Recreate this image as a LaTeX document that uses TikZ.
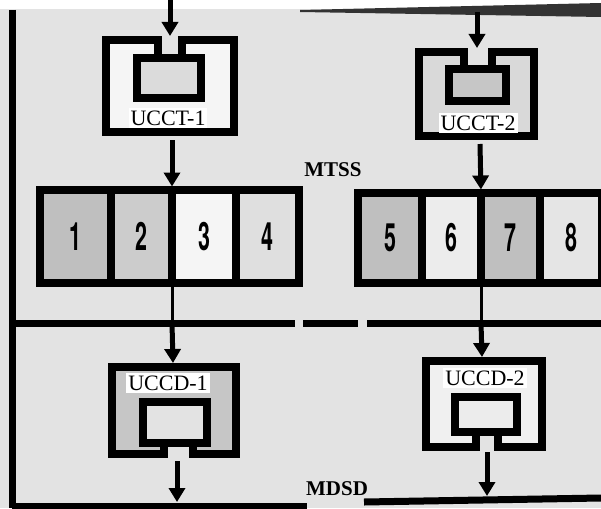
\documentclass[tikz,border=0pt]{standalone}
\usepackage{fontspec}
\setmainfont{Liberation Serif}
\newfontfamily\digitfont{TeX Gyre Heros}
\usetikzlibrary{arrows.meta,positioning}

\colorlet{bgray}{gray!22}
\tikzset{
  frame/.style={line width=7.5pt, line join=miter},
  flow/.style={line width=5pt, -{Triangle[width=16pt,length=14pt]}},
  tapline/.style={line width=3pt},
  busline/.style={line width=7pt},
  cell/.style={draw, line width=7.5pt, outer sep=0pt, inner sep=0pt, minimum height=93pt},
  unitlabel/.style={fill=white, inner xsep=2pt, inner ysep=3pt, font=\fontsize{22}{24}\selectfont},
  busname/.style={font=\bfseries\fontsize{21}{24}\selectfont},
}
\newcommand{\cellnum}[1]{\scalebox{0.55}[1]{\digitfont\bfseries\fontsize{39}{40}\selectfont #1}}

\begin{document}
\begin{tikzpicture}[x=1pt, y=-1pt]
    \useasboundingbox (0,0) rectangle (601,508);

    % Background of the plate
    \fill[bgray] (0,9) rectangle (601,508);
    \fill[black!80] (300,10) -- (601,3) -- (601,17) -- (300,12) -- cycle;

    % Frame lines
    \draw[busline] (12,10) -- (12,508);
    \draw[busline] (12,323) -- (295,323);
    \draw[busline] (303,323) -- (358,323);
    \draw[busline] (367,323) -- (601,323);
    \draw[busline] (12,506) -- (307,506);
    \draw[busline] (364,502) -- (601,498);

    % UCCT-1
    \fill[gray!8] (106,40) rectangle (234,132);
    \fill[bgray] (158,36) rectangle (182,58);
    \fill[gray!28] (137,58) rectangle (201,98);
    \draw[frame] (158,58) -- (158,40) -- (106,40) -- (106,132) -- (234,132) -- (234,40) -- (182,40) -- (182,58);
    \draw[frame] (137,58) rectangle (201,98);
    \node[unitlabel] (ucct1) at (168,118) {UCCT-1};
    \coordinate (ucct1 in) at (170,36);
    \coordinate (ucct1 out) at (172,140);

    % UCCT-2
    \fill[gray!30] (419,52) rectangle (534,136);
    \fill[bgray] (464,48) rectangle (492,69);
    \fill[gray!45] (449,69) rectangle (506,101);
    \draw[frame] (464,69) -- (464,52) -- (419,52) -- (419,136) -- (534,136) -- (534,52) -- (492,52) -- (492,69);
    \draw[frame] (449,69) rectangle (506,101);
    \node[unitlabel] (ucct2) at (478,123) {UCCT-2};
    \coordinate (ucct2 in) at (477,48);
    \coordinate (ucct2 out) at (480,144);

    % MTSS registers
    \node[cell, fill=gray!50, minimum width=71pt, anchor=north west] (c1) at (40,190) {\cellnum{1}};
    \node[cell, fill=gray!40, minimum width=61pt, right=0pt of c1] (c2) {\cellnum{2}};
    \node[cell, fill=gray!8, minimum width=64pt, right=0pt of c2] (c3) {\cellnum{3}};
    \node[cell, fill=gray!25, minimum width=63pt, right=0pt of c3] (c4) {\cellnum{4}};
    \node[cell, fill=gray!50, minimum width=64pt, minimum height=90pt, anchor=north west] (c5) at (358,193) {\cellnum{5}};
    \node[cell, fill=gray!15, minimum width=59pt, minimum height=90pt, right=0pt of c5] (c6) {\cellnum{6}};
    \node[cell, fill=gray!50, minimum width=59pt, minimum height=90pt, right=0pt of c6] (c7) {\cellnum{7}};
    \node[cell, fill=gray!20, minimum width=62pt, minimum height=90pt, right=0pt of c7] (c8) {\cellnum{8}};
    \node[busname] (mtss) at (333,170) {MTSS};

    % UCCD-1
    \fill[gray!45] (112,367) rectangle (236,454);
    \fill[bgray] (164,443) rectangle (193,458);
    \fill[gray!22] (143,402) rectangle (207,443);
    \draw[frame] (164,443) -- (164,454) -- (112,454) -- (112,367) -- (236,367) -- (236,454) -- (193,454) -- (193,443);
    \draw[frame] (143,402) rectangle (207,443);
    \node[unitlabel] (uccd1) at (168,383) {UCCD-1};
    \coordinate (uccd1 in) at (173,363);
    \coordinate (uccd1 out) at (177,461);

    % UCCD-2
    \fill[gray!12] (426,361) rectangle (542,447);
    \fill[bgray] (476,432) rectangle (498,451);
    \fill[gray!15] (455,397) rectangle (517,432);
    \draw[frame] (476,432) -- (476,447) -- (426,447) -- (426,361) -- (542,361) -- (542,447) -- (498,447) -- (498,432);
    \draw[frame] (455,397) rectangle (517,432);
    \node[unitlabel] (uccd2) at (485,378) {UCCD-2};
    \coordinate (uccd2 in) at (482,357);
    \coordinate (uccd2 out) at (487,452);

    \node[busname] (mdsd) at (337,489) {MDSD};

    % Data flow
    \coordinate (feed1) at (170,0);
    \coordinate (feed2) at (477,12);
    \coordinate (tap1) at (172,323);
    \coordinate (tap2) at (481,323);
    \coordinate (sink1) at (177,502);
    \coordinate (sink2) at (487,496);

    \draw[flow] (feed1) -- (ucct1 in);
    \draw[flow] (feed2) -- (ucct2 in);
    \draw[flow, shorten >=3.5pt] (ucct1 out) -- (c2.north east);
    \draw[flow, shorten >=3.5pt] (ucct2 out) -- (c6.north east);
    \draw[tapline] (c2.south east) -- (tap1);
    \draw[tapline] (c6.south east) -- (tap2);
    \draw[flow] (tap1) -- (uccd1 in);
    \draw[flow] (tap2) -- (uccd2 in);
    \draw[flow] (uccd1 out) -- (sink1);
    \draw[flow] (uccd2 out) -- (sink2);

\end{tikzpicture}
\end{document}
